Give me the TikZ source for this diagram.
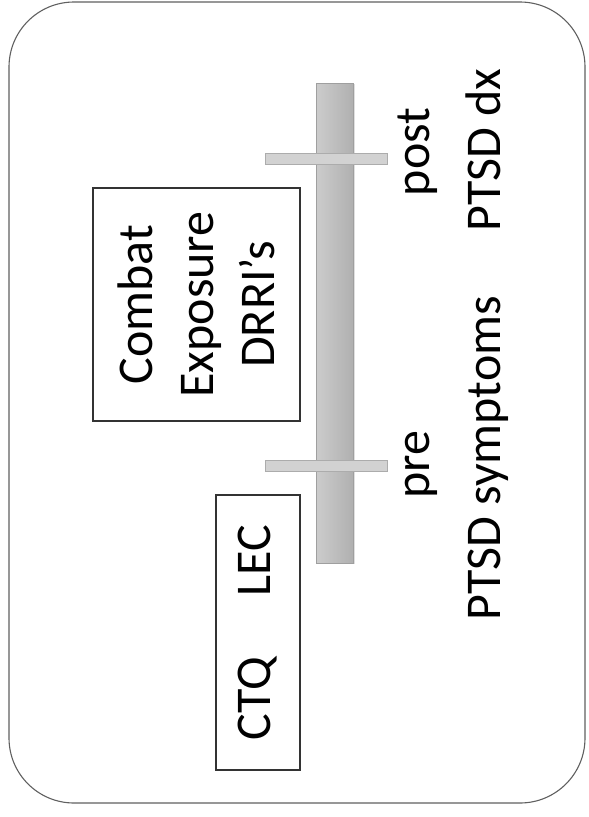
\documentclass[tikz,border=0pt]{standalone}
\usepackage{fontspec}
\setmainfont{Carlito}
\usepackage{tikz}
\usetikzlibrary{positioning, shadows}
\tikzstyle{frame} = [
  rectangle, rounded corners=65pt, draw=gray!75!black, line width=1.1pt,
  fill=white, inner sep=0pt
]
\tikzstyle{measure} = [
  rectangle, draw=black!80, line width=1.1pt, rotate=90,
  align=center, inner sep=0pt
]
\tikzstyle{pole} = [
  rectangle, draw=gray!75, left color=gray!40, right color=gray!62,
  line width=0.8pt, inner sep=0pt, minimum width=37pt, minimum height=480pt,
  drop shadow={shadow xshift=2pt, shadow yshift=-1pt, opacity=0.25}
]
\tikzstyle{tick} = [
  rectangle, draw=gray!65, fill=gray!35, line width=0.8pt, inner sep=0pt,
  minimum width=122pt, minimum height=11pt
]
\tikzstyle{lbl} = [rotate=90, anchor=base, inner sep=0pt]

\begin{document}
\begin{tikzpicture}[x=1pt, y=-1pt, font=\fontsize{50}{61}\selectfont]

  \useasboundingbox (0, 0) rectangle (589, 817);

  \node[frame, minimum width=576pt, minimum height=801pt] (frame) at (297, 402.5) {};

  \node[measure, minimum width=233pt, minimum height=207pt] (combat) at (196.5, 304.5)
    {Combat\\Exposure\\DRRI’s};
  \node[measure, minimum width=275pt, minimum height=84pt] (ctq) at (258, 632.5)
    {CTQ\hspace{1.2em}LEC};

  \node[pole] (pole) at (334.5, 323) {};
  \node[tick] (posttick) at (326, 158.5) {};
  \node[tick] (pretick) at (326, 466) {};

  \node[lbl] (post) at (429, 152) {post};
  \node[lbl] (pre) at (429, 465) {pre};
  \node[lbl] (dx) at (500, 150) {PTSD dx};
  \node[lbl] (symptoms) at (500, 458) {PTSD symptoms};

\end{tikzpicture}
\end{document}
